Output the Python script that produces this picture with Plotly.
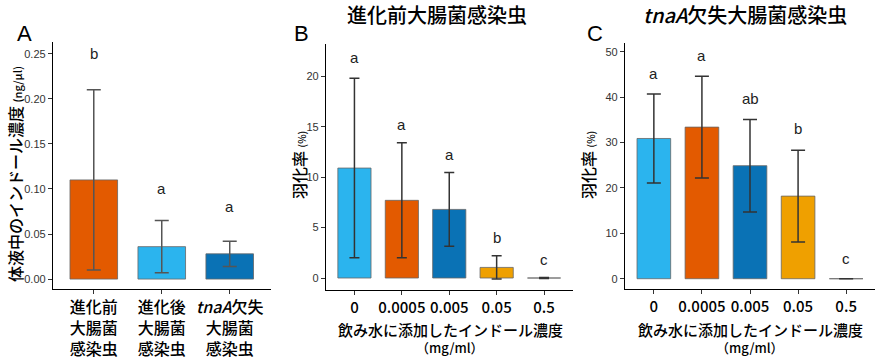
import plotly.graph_objects as go

W, H = 880, 360
FONT = "Liberation Sans, Arial, Noto Sans CJK JP"
JFONT = "Noto Sans CJK JP, Liberation Sans"

# ---- data ----
a_categories = ["進化前<br>大腸菌<br>感染虫", "進化後<br>大腸菌<br>感染虫", "<i>tnaA</i>欠失<br>大腸菌<br>感染虫"]
a_mean = [0.110, 0.036, 0.028]
a_sd = [0.100, 0.029, 0.014]
a_letters = ["b", "a", "a"]
a_letter_y = [0.250, 0.100, 0.080]

conc_labels = ["0", "0.0005", "0.005", "0.05", "0.5"]
b_mean = [10.9, 7.7, 6.8, 1.05, 0.0]
b_sd = [8.9, 5.7, 3.65, 1.15, 0.05]
b_letters = ["a", "a", "a", "b", "c"]
b_letter_y = [21.9, 15.2, 12.2, 4.05, 1.8]

c_mean = [30.9, 33.4, 24.9, 18.2, 0.0]
c_sd = [9.8, 11.2, 10.2, 10.1, 0.0]
c_letters = ["a", "a", "ab", "b", "c"]
c_letter_y = [45.2, 49.2, 39.6, 33.0, 4.5]

a_ticks = [0.00, 0.05, 0.10, 0.15, 0.20, 0.25]
b_ticks = [0, 5, 10, 15, 20]
c_ticks = [0, 10, 20, 30, 40, 50]

LBLUE, RED, DBLUE, ORANGE, GREY = "#2BB4EE", "#E35A00", "#0A72B5", "#EFA000", "#BDBDBD"
a_colors = [RED, LBLUE, DBLUE]
bc_colors = [LBLUE, RED, DBLUE, ORANGE, GREY]


def px_x(p):
    return p / W


def px_y(p):
    return 1 - p / H


fig = go.Figure()

panels = [
    dict(ax="", mean=a_mean, sd=a_sd, colors=a_colors, labels=a_categories,
         letters=a_letters, ly=a_letter_y, ticks=a_ticks, fmt=".2f",
         xd=(53, 270.5), yd=(42, 289), yr=(-0.011, 0.263), cap=7, ecol="#555555", tickfs=16),
    dict(ax="2", mean=b_mean, sd=b_sd, colors=bc_colors, labels=conc_labels,
         letters=b_letters, ly=b_letter_y, ticks=b_ticks, fmt="d",
         xd=(326, 572.5), yd=(44, 290), yr=(-1.19, 23.2), cap=5, ecol="#333333", tickfs=15),
    dict(ax="3", mean=c_mean, sd=c_sd, colors=bc_colors, labels=conc_labels,
         letters=c_letters, ly=c_letter_y, ticks=c_ticks, fmt="d",
         xd=(625, 875), yd=(42.7, 289.3), yr=(-2.33, 52), cap=7, ecol="#333333", tickfs=15),
]

annotations = []
for p in panels:
    n = len(p["mean"])
    xs = list(range(1, n + 1))
    fig.add_trace(go.Bar(
        x=xs, y=p["mean"], width=0.7,
        marker=dict(color=p["colors"], line=dict(color="#666666", width=0.8)),
        error_y=dict(type="data", array=p["sd"], visible=True, color=p["ecol"],
                     thickness=1.5, width=p["cap"]),
        xaxis="x" + p["ax"], yaxis="y" + p["ax"], showlegend=False,
    ))
    xk = "xaxis" + p["ax"]
    yk = "yaxis" + p["ax"]
    fig.update_layout(**{
        xk: dict(domain=[px_x(p["xd"][0]), px_x(p["xd"][1])], anchor="y" + p["ax"],
                 range=[0.4, n + 0.6], tickvals=xs, ticktext=p["labels"],
                 showline=True, linecolor="black", linewidth=1.3, automargin=False,
                 ticks="outside", ticklen=4, tickcolor="#333333", tickwidth=1,
                 showgrid=False, zeroline=False,
                 tickfont=dict(family=JFONT, size=p["tickfs"], color="black", weight=500)),
        yk: dict(domain=[px_y(p["yd"][1]), px_y(p["yd"][0])], anchor="x" + p["ax"],
                 range=list(p["yr"]), tickvals=p["ticks"],
                 ticktext=[format(t, p["fmt"]) for t in p["ticks"]],
                 showline=True, linecolor="black", linewidth=1.3, automargin=False,
                 ticks="outside", ticklen=4, tickcolor="#333333", tickwidth=1,
                 showgrid=False, zeroline=False,
                 tickfont=dict(family=FONT, size=11, color="#333333")),
    })
    for x, y, t in zip(xs, p["ly"], p["letters"]):
        annotations.append(dict(x=x, y=y, xref="x" + p["ax"], yref="y" + p["ax"],
                                text=t, showarrow=False, xanchor="center", yanchor="middle",
                                font=dict(family=FONT, size=15, color="#222222")))


def paper_text(text, x, y, size, angle=0, family=JFONT, weight=500):
    annotations.append(dict(x=px_x(x), y=px_y(y), xref="paper", yref="paper", text=text,
                            showarrow=False, xanchor="center", yanchor="middle",
                            textangle=angle,
                            font=dict(family=family, size=size, color="black", weight=weight)))


# panel letters
for t, x in [("A", 24), ("B", 301), ("C", 595)]:
    paper_text(t, x, 33, 22, family=FONT, weight=400)

# titles
paper_text("進化前大腸菌感染虫", 437, 15, 20)
paper_text("<i>tnaA</i>欠失大腸菌感染虫", 745, 15, 20)

# y titles
paper_text('体液中のインドール濃度 <span style="font-size:11px">(ng/µl)</span>', 15, 174, 16, angle=-90)
for x in (299, 588):
    paper_text('羽化率 <span style="font-size:10px">(%)</span>', x, 165, 16, angle=-90)

# x titles
for cx in (450, 750):
    paper_text("飲み水に添加したインドール濃度", cx, 329, 15)
    paper_text("（mg/ml）", cx, 347, 13)

fig.update_layout(width=W, height=H, margin=dict(l=0, r=0, t=0, b=0),
                  paper_bgcolor="white", plot_bgcolor="white",
                  annotations=annotations, bargap=0.3)

fig.write_html("out.html", config={"displayModeBar": False},
               post_script="document.body.style.margin='0';document.body.style.padding='0';")
